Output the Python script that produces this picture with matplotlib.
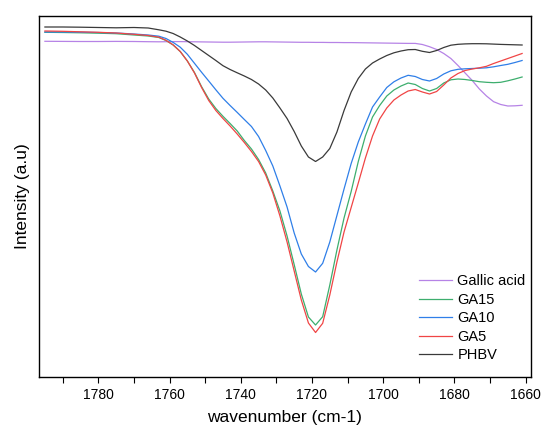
import matplotlib
matplotlib.use("Agg")
import matplotlib.pyplot as plt
from matplotlib.ticker import MultipleLocator, NullLocator

plt.rcParams['font.family'] = ['Liberation Sans', 'DejaVu Sans']

wavenumber = [1795, 1790, 1785, 1780, 1775, 1770, 1766,
              1763, 1761, 1759, 1757, 1755, 1753, 1751, 1749, 1747, 1745, 1743, 1741,
              1739, 1737, 1735, 1733, 1731, 1729, 1727, 1725, 1723, 1721, 1719, 1717,
              1715, 1713, 1711, 1709, 1707, 1705, 1703, 1701, 1699, 1697, 1695, 1693,
              1691, 1689, 1687, 1685, 1683, 1681, 1679, 1677, 1675, 1673, 1671, 1669,
              1667, 1665, 1663, 1661]

# readings as depth below the top of the frame (a.u.); intensity = 400 - depth
phbv_d = [27, 27, 27.2, 27.5, 27.8, 27.5, 28,
          29.8, 31.2, 33.5, 37, 41, 45.5, 50.5, 55.5, 60.5, 65.7, 69.5, 72.8,
          76, 79.5, 84, 90, 98, 108, 118.5, 131.5, 146, 157, 161.5, 157,
          148.5, 132, 110.5, 92, 78.5, 69, 63, 59, 55.5, 52.8, 51, 49.7,
          49.5, 51.3, 52.5, 50.5, 47.5, 45.2, 44.3, 43.9, 43.7, 43.7, 43.8, 44.1,
          44.4, 44.6, 44.8, 45]
gallic_d = [41.3, 41.4, 41.5, 41.5, 41.4, 41.5, 41.7,
            41.8, 41.7, 41.6, 41.6, 41.7, 41.8, 41.9, 42.0, 42.1, 42.2, 42.2, 42.1,
            42.0, 41.9, 41.8, 41.8, 41.9, 42.0, 42.1, 42.2, 42.3, 42.3, 42.4, 42.4,
            42.5, 42.5, 42.6, 42.6, 42.7, 42.8, 42.9, 43.0, 43.1, 43.2, 43.3, 43.4,
            43.4, 44.5, 46.7, 49.5, 53.5, 58.5, 65.5, 73, 80.5, 89, 96, 101.7,
            104.5, 106, 105.8, 105.3]
ga10_d = [32, 32, 32.2, 32.5, 33, 34, 35,
          36.2, 38.5, 42.4, 47.2, 54.3, 63.3, 72.3, 81, 89.8, 98.3, 105.5, 112.4,
          119.5, 126.5, 136.5, 150.5, 166, 186, 207, 233, 254, 266.5, 272, 263.3,
          242, 215.5, 189, 163.5, 142, 124, 107, 97, 87.5, 81.8, 78, 75.3,
          76.5, 79.5, 81, 78.5, 74, 70.8, 69.3, 68.8, 68.5, 68.2, 67.8, 66.8,
          65.5, 64.3, 62.5, 60.5]
ga15_d = [32.3, 32.5, 32.8, 33.2, 33.7, 35, 36,
          37.5, 40.5, 45, 51.5, 61, 72.5, 86.7, 99, 108.5, 116.3, 123.5, 131,
          140.5, 149, 159.5, 173, 191, 211, 236, 264.6, 294, 317, 325, 316.7,
          285, 250, 218, 191.5, 161.5, 136, 117, 105.5, 96, 90, 86, 83,
          84.5, 88.5, 91, 88.5, 83, 79.8, 79, 79.5, 80.5, 81.7, 82.3, 82.7,
          82.3, 80.8, 79, 77]
ga5_d = [31, 31.3, 31.8, 32.3, 33, 34.3, 35.5,
         37.2, 40.3, 44.8, 51.5, 61, 73, 87.5, 100.5, 110.5, 118.5, 126, 134,
         142.5, 151.5, 161.5, 175, 193, 216, 242, 271, 300, 323, 332.5, 323.3,
         295, 262, 232, 207.5, 183, 158, 136, 119, 108, 100, 95, 91,
         89.5, 92, 94, 91.5, 85, 78, 73.5, 70.5, 69, 67.8, 66.3, 63.5,
         61, 58.5, 56, 53.5]

labels = ['Gallic acid', 'GA15', 'GA10', 'GA5', 'PHBV']
colors = ['#B683E6', '#3DAE6E', '#2F7FE8', '#F04545', '#3A3A3A']

series = [gallic_d, ga15_d, ga10_d, ga5_d, phbv_d]

fig = plt.figure(figsize=(5.45, 4.34), dpi=100)
ax = fig.add_axes([38.5/545, 1-377/434, (531-38.5)/545, (377-16)/434])

for d, lab, c in zip(series, labels, colors):
    ax.plot(wavenumber, [400 - v for v in d], color=c, lw=0.9, label=lab)

ax.set_xlim(1796.8, 1658.5)
ax.set_ylim(400 - 377, 400 - 16)
ax.xaxis.set_major_locator(MultipleLocator(20))
ax.xaxis.set_minor_locator(MultipleLocator(10))
ax.yaxis.set_major_locator(NullLocator())
ax.tick_params(axis='x', which='both', direction='out', length=4, width=0.8,
               labelsize=10, pad=4)
for s in ax.spines.values():
    s.set_linewidth(1.0)

ax.set_xlabel('wavenumber (cm-1)', fontsize=12.5, labelpad=6)
ax.set_ylabel('Intensity (a.u)', fontsize=12.5, labelpad=6)

ax.legend(loc='lower right', frameon=False, fontsize=10.5, handlelength=2.3,
          handletextpad=0.35, labelspacing=0.31, borderaxespad=0.3,
          bbox_to_anchor=(1.01, 0.012))

fig.savefig('out.png', dpi=100)
